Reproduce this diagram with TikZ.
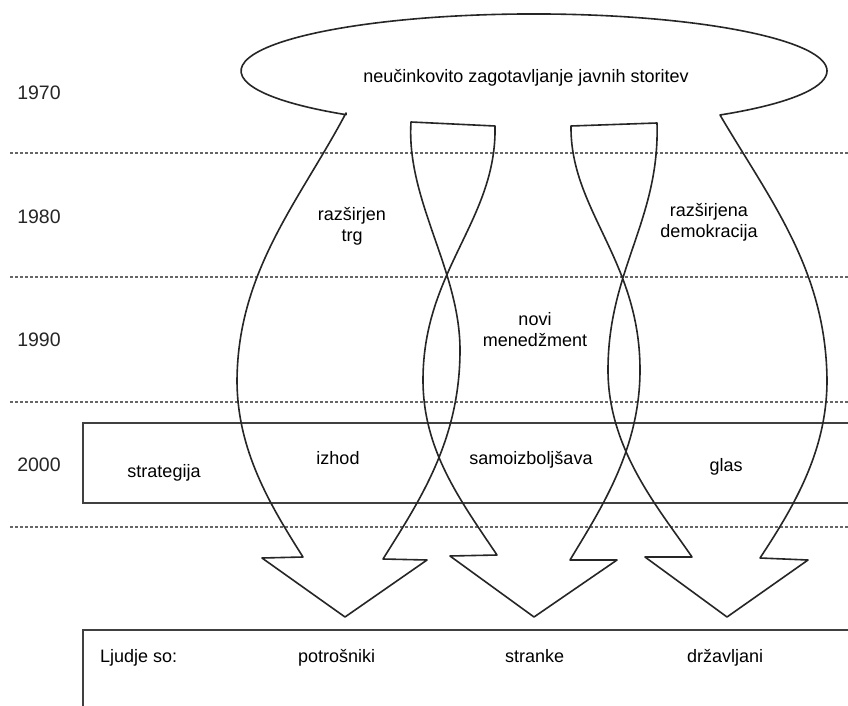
\documentclass[tikz,border=0pt]{standalone}
\usepackage{fontspec}
\setmainfont{Liberation Sans}
\begin{document}
\begin{tikzpicture}[x=1pt,y=-1pt,
  outline/.style={line width=1.6pt, draw=black!85, line join=round},
  tline/.style={dash pattern=on 3pt off 2pt, line width=1.1pt, draw=black!60},
  frame/.style={line width=1.8pt, draw=black!75},
  lbl/.style={font=\fontsize{18}{21}\selectfont, align=center, inner sep=0pt, text=black},
  yr/.style={font=\fontsize{19.5}{22}\selectfont, inner sep=0pt, text=black!85}]
\useasboundingbox (0,0) rectangle (848,706);
\fill[white] (0,0) rectangle (848,706);

% time lines
\foreach \yy in {153,277,402,527}
  \draw[tline] (10,\yy) -- (848,\yy);

% 2000 band and bottom box
\draw[frame] (848,423) -- (83,423) -- (83,503) -- (848,503);
\draw[frame] (848,630) -- (83,630) -- (83,706);

% ribbon outline
\draw[outline] (346,113)
 .. controls (300,200) and (238,270) .. (237,380)
 .. controls (237,450) and (270,505) .. (303,557)
 -- (262,558) -- (345,617) -- (427,560) -- (383,559)
 .. controls (420,500) and (460,440) .. (460,350)
 .. controls (460,270) and (406,200) .. (411,122)
 -- (495,126)
 .. controls (497,220) and (423,270) .. (423,380)
 .. controls (423,450) and (460,500) .. (497,555)
 -- (450,556) -- (534,617) -- (617,560) -- (570,560)
 .. controls (600,510) and (640,450) .. (640,370)
 .. controls (640,260) and (570,210) .. (571,126)
 -- (657,123)
 .. controls (660,220) and (608,270) .. (608,370)
 .. controls (608,450) and (660,510) .. (692,557)
 -- (645,557) -- (727,617) -- (808,560) -- (760,558)
 .. controls (795,505) and (827,450) .. (827,380)
 .. controls (826,270) and (770,200) .. (720,115)
 arc[start angle=-50.6, end angle=230.1, x radius=293pt, y radius=57pt]
 -- cycle;

% years
\node[yr] (y1970) at (39,93) {1970};
\node[yr] (y1980) at (39,217) {1980};
\node[yr] (y1990) at (39,340) {1990};
\node[yr] (y2000) at (39,465) {2000};

% labels
\node[lbl] (top) at (526,78) {neučinkovito zagotavljanje javnih storitev};
\node[lbl] (trg) at (352,226) {razširjen\\trg};
\node[lbl] (dem) at (709,222) {razširjena\\demokracija};
\node[lbl] (nm) at (535,330) {novi\\menedžment};
\node[lbl] (izhod) at (338,458) {izhod};
\node[lbl] (samo) at (531,460) {samoizboljšava};
\node[lbl] (glas) at (726,467) {glas};
\node[lbl] (strat) at (164,473) {strategija};
\node[lbl, anchor=base west] (ljudje) at (100,662) {Ljudje so:};
\node[lbl, anchor=base west] (potr) at (298,662) {potrošniki};
\node[lbl, anchor=base west] (stra) at (505,662) {stranke};
\node[lbl, anchor=base west] (drz) at (687,662) {državljani};
\end{tikzpicture}
\end{document}
